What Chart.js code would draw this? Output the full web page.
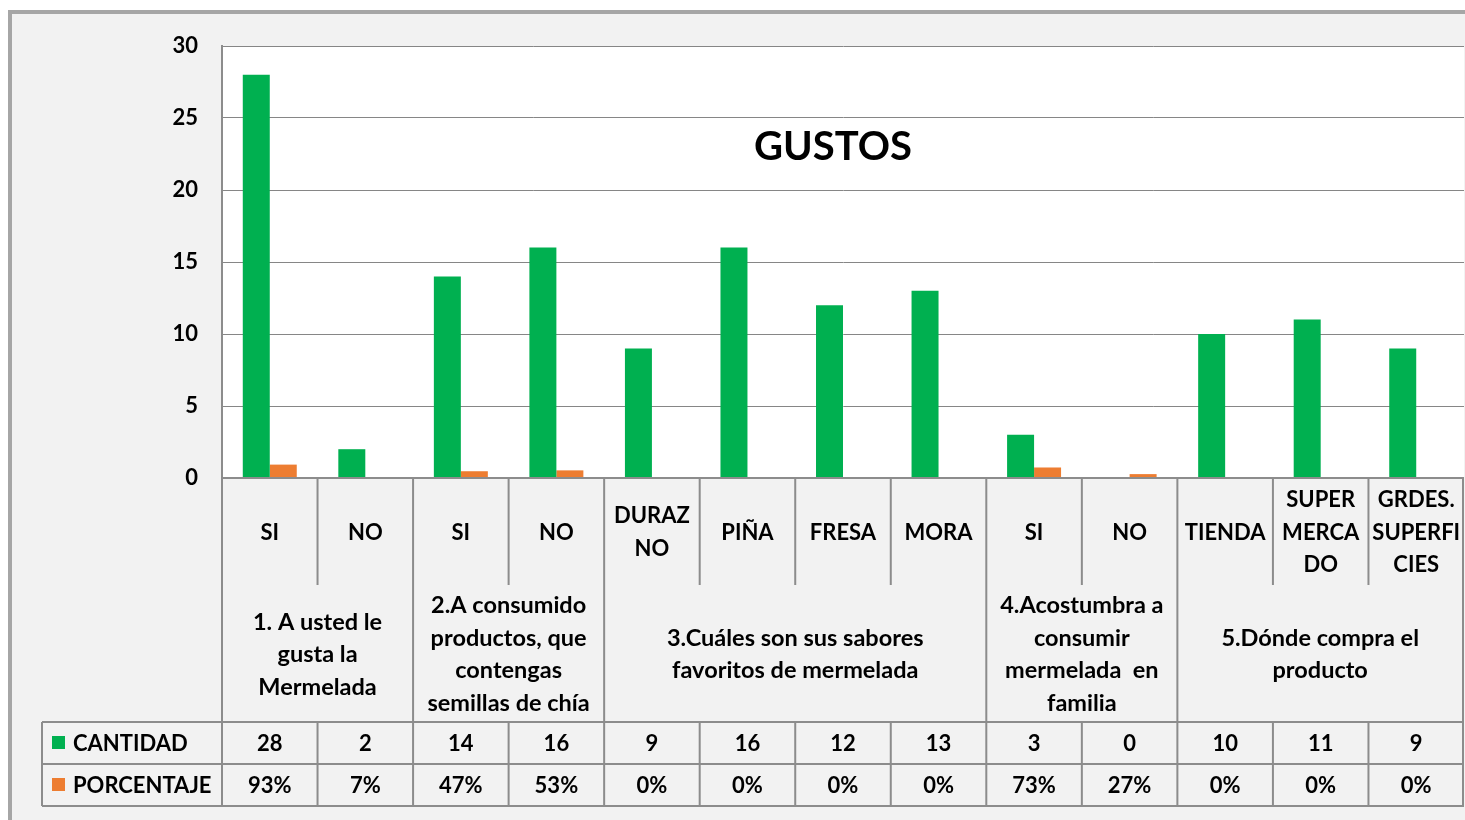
<!DOCTYPE html>
<html><head><meta charset="utf-8">
<script src="https://cdn.jsdelivr.net/npm/chart.js@4.4.1/dist/chart.umd.min.js"></script>
<style>html,body{margin:0;padding:0;background:#fff;}canvas{display:block;}</style>
</head><body>
<canvas id="c" width="1465" height="820" style="width:1465px;height:820px"></canvas>
<script>
const title = "GUSTOS";
const categoryLines = [["SI"],["NO"],["SI"],["NO"],["DURAZ","NO"],["PIÑA"],["FRESA"],["MORA"],["SI"],["NO"],["TIENDA"],["SUPER","MERCA","DO"],["GRDES.","SUPERFI","CIES"]];
const groupLabels = [
  ["1. A usted le","gusta la","Mermelada"],
  ["2.A consumido","productos, que","contengas","semillas de chía"],
  ["3.Cuáles son sus sabores","favoritos de mermelada"],
  ["4.Acostumbra a","consumir","mermelada  en","familia"],
  ["5.Dónde compra el","producto"]
];
const groupSizes = [2,2,4,2,3];
const cantidad = [28,2,14,16,9,16,12,13,3,0,10,11,9];
const porcentaje = [93,7,47,53,0,0,0,0,73,27,0,0,0];
const seriesNames = ["CANTIDAD","PORCENTAJE"];
const seriesColors = ["#00b050","#ed7d31"];
const yTicks = [0,5,10,15,20,25,30];

const FONT = "Lato, 'Open Sans', sans-serif";
const LINE = "#8c8c8c";

const tablePlugin = {
  id: 'tablePlugin',
  beforeDraw(chart) {
    const ctx = chart.ctx, a = chart.chartArea;
    ctx.save();
    ctx.fillStyle = '#ffffff';
    ctx.fillRect(0,0,chart.width,chart.height);
    ctx.fillStyle = '#a6a6a6';
    ctx.fillRect(8,10,chart.width,chart.height);
    ctx.fillStyle = '#f2f2f2';
    ctx.fillRect(12,14,chart.width,chart.height);
    ctx.fillStyle = '#ffffff';
    ctx.fillRect(a.left,a.top,a.right-a.left,a.bottom-a.top);
    ctx.restore();
  },
  afterDraw(chart) {
    const ctx = chart.ctx, a = chart.chartArea, x = chart.scales.x;
    const n = categoryLines.length;
    const half = (x.getPixelForValue(1) - x.getPixelForValue(0)) / 2;
    const bnd = i => i < n ? x.getPixelForValue(i) - half : x.getPixelForValue(n-1) + half;
    const yCatBottom = a.bottom + 107, yRow1 = a.bottom + 244, yRow2 = yRow1 + 42, yRow3 = yRow2 + 42;
    const legendLeft = 42;
    const rightEdge = bnd(n) - 1;
    const gb = [0]; groupSizes.forEach(s => gb.push(gb[gb.length-1]+s));
    ctx.save();
    ctx.strokeStyle = LINE; ctx.lineWidth = 2;
    ctx.beginPath();
    [a.bottom, yRow1, yRow2, yRow3].forEach((yy, k) => {
      ctx.moveTo(k===0 ? a.left : legendLeft, yy); ctx.lineTo(rightEdge+1, yy);
    });
    ctx.moveTo(legendLeft, yRow1); ctx.lineTo(legendLeft, yRow3);
    for (let i = 0; i <= n; i++) {
      const xx = i === n ? rightEdge : bnd(i);
      if (gb.includes(i)) { ctx.moveTo(xx, a.bottom); ctx.lineTo(xx, yRow3); }
      else { ctx.moveTo(xx, a.bottom); ctx.lineTo(xx, yCatBottom); ctx.moveTo(xx, yRow1); ctx.lineTo(xx, yRow3); }
    }
    ctx.stroke();
    ctx.fillStyle = '#000';
    ctx.font = "bold 22px " + FONT;
    ctx.textAlign = 'center'; ctx.textBaseline = 'middle';
    const lh = 32.5;
    const drawLines = (lines, cx, cy) => {
      const y0 = cy - (lines.length-1)*lh/2;
      lines.forEach((t, k) => ctx.fillText(t, cx, y0 + k*lh));
    };
    categoryLines.forEach((lines, i) => drawLines(lines, x.getPixelForValue(i), (a.bottom + yCatBottom)/2 + 1));
    ctx.font = "bold 23.5px " + FONT;
    groupLabels.forEach((lines, g) => {
      const cx = (bnd(gb[g]) + (gb[g+1] === n ? rightEdge : bnd(gb[g+1]))) / 2;
      drawLines(lines, cx, (yCatBottom + yRow1)/2 + 1);
    });
    ctx.font = "bold 22px " + FONT;
    cantidad.forEach((v, i) => ctx.fillText(String(v), x.getPixelForValue(i), (yRow1+yRow2)/2 + 1));
    porcentaje.forEach((v, i) => ctx.fillText(v + '%', x.getPixelForValue(i), (yRow2+yRow3)/2 + 1));
    ctx.textAlign = 'left';
    [[yRow1,yRow2],[yRow2,yRow3]].forEach((r, k) => {
      const cy = (r[0]+r[1])/2;
      ctx.fillStyle = seriesColors[k];
      ctx.fillRect(legendLeft+10, cy-7, 13, 13);
      ctx.fillStyle = '#000';
      ctx.fillText(seriesNames[k], legendLeft+31, cy+1);
    });
    ctx.textAlign = 'center';
    ctx.font = "bold 40px " + FONT;
    ctx.fillText(title, (a.left + a.right)/2 - 10, 147);
    ctx.restore();
  }
};

new Chart(document.getElementById('c'), {
  type: 'bar',
  data: {
    labels: categoryLines.map(l => l.join('')),
    datasets: [
      { label: seriesNames[0], data: cantidad, backgroundColor: seriesColors[0] },
      { label: seriesNames[1], data: porcentaje.map(v => v/100), backgroundColor: seriesColors[1] }
    ]
  },
  options: {
    responsive: false,
    animation: false,
    devicePixelRatio: 1,
    layout: { padding: { left: 0, top: 46, right: 1, bottom: 342 } },
    datasets: { bar: { categoryPercentage: 0.565, barPercentage: 1.0 } },
    plugins: { legend: { display: false }, tooltip: { enabled: false }, title: { display: false } },
    scales: {
      x: { display: false },
      y: {
        min: 0, max: 30,
        afterFit: s => { s.width = 222; },
        afterBuildTicks: s => { s.ticks = yTicks.map(v => ({ value: v })); },
        border: { display: true, color: LINE, width: 2 },
        grid: { color: '#868686', lineWidth: 1, drawTicks: false },
        ticks: { padding: 24, color: '#000', font: { family: FONT, size: 22, weight: 'bold' } }
      }
    }
  },
  plugins: [tablePlugin]
});
</script>
</body></html>
